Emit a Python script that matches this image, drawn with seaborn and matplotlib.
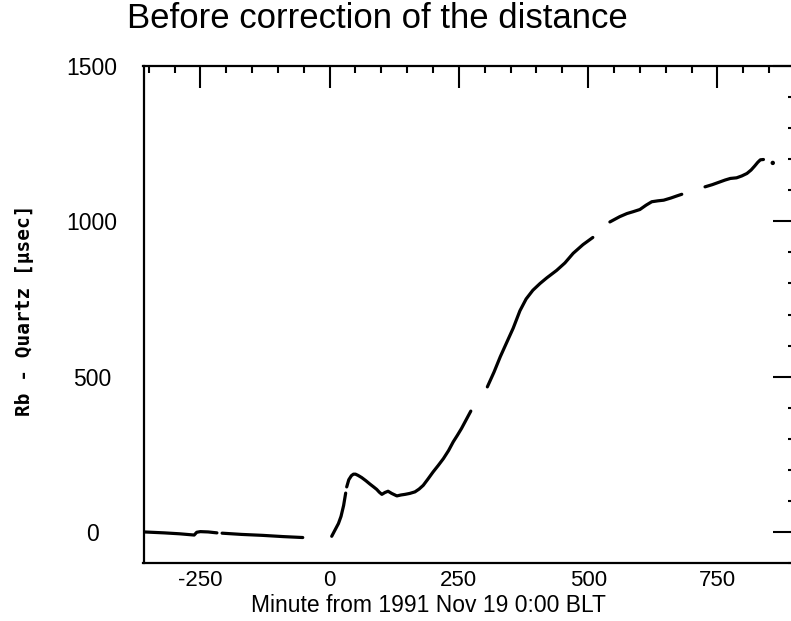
import numpy as np
import pandas as pd
import matplotlib
matplotlib.use("Agg")
import matplotlib.pyplot as plt
import seaborn as sns
from matplotlib.ticker import MultipleLocator

# Rb - Quartz offset (pieces of the trace with gaps)
seg1_x = [-359, -320, -290, -262, -257, -250, -235, -218]
seg1_y = [0, -3, -6, -10, -1, 1, 0, -3]
seg2_x = [-208, -170, -130, -90, -52]
seg2_y = [-4, -8, -11, -15, -18]
seg3_x = [4, 10, 17, 22, 27, 31]
seg3_y = [-14, 5, 27, 50, 85, 125]
seg4_x = [33, 37, 42, 46, 50, 55, 62, 70, 78, 85, 91, 96, 101, 107, 113, 120, 130,
          138, 146, 155, 165, 173, 181, 190, 200, 210, 220, 230, 239, 247, 255, 264, 273]
seg4_y = [145, 168, 181, 186, 186, 182, 175, 165, 154, 145, 137, 128, 121, 127, 131, 124, 116,
          119, 121, 124, 129, 138, 150, 170, 193, 214, 236, 262, 290, 311, 333, 361, 389]
seg5_x = [305, 318, 330, 343, 355, 368, 380, 393, 407, 420, 439, 455, 471, 490, 509]
seg5_y = [467, 515, 564, 612, 656, 712, 750, 778, 800, 818, 842, 866, 897, 925, 948]
seg6_x = [542, 561, 575, 587, 600, 612, 623, 635, 646, 660, 672, 681]
seg6_y = [998, 1015, 1025, 1031, 1038, 1052, 1063, 1066, 1068, 1075, 1082, 1087]
seg7_x = [726, 740, 755, 765, 775, 787, 797, 807, 815, 822, 828, 833, 839]
seg7_y = [1111, 1118, 1127, 1133, 1138, 1140, 1146, 1154, 1165, 1178, 1190, 1198, 1199]
dot_x = [857]
dot_y = [1188]

segments = [(seg1_x, seg1_y), (seg2_x, seg2_y), (seg3_x, seg3_y), (seg4_x, seg4_y),
            (seg5_x, seg5_y), (seg6_x, seg6_y), (seg7_x, seg7_y)]
df = pd.concat([pd.DataFrame({"minute": sx, "diff": sy, "seg": i})
                for i, (sx, sy) in enumerate(segments)], ignore_index=True)
df_dot = pd.DataFrame({"minute": dot_x, "diff": dot_y})

sns.set_style("white")
plt.rcParams["font.family"] = ["Liberation Sans", "DejaVu Sans"]
plt.rcParams["axes.unicode_minus"] = False
plt.rcParams["text.color"] = "black"
plt.rcParams["xtick.color"] = "black"
plt.rcParams["ytick.color"] = "black"

W, H = 791, 621
fig = plt.figure(figsize=(W / 100, H / 100), dpi=100)
# axes box in pixels: left 143.5, right 795 (cut by the image edge), top 66, bottom 563
ax = fig.add_axes([143.5 / W, (H - 563) / H, (795 - 143.5) / W, (563 - 66) / H])

sns.lineplot(data=df, x="minute", y="diff", units="seg", estimator=None, sort=False,
             color="black", linewidth=2.3, ax=ax)
sns.scatterplot(data=df_dot, x="minute", y="diff", color="black", s=10, edgecolor="none", ax=ax)

ax.set_xlim(-360, 900)
ax.set_ylim(-100, 1500)
ax.xaxis.set_major_locator(MultipleLocator(250))
ax.xaxis.set_minor_locator(MultipleLocator(50))
ax.yaxis.set_major_locator(MultipleLocator(500))
ax.yaxis.set_minor_locator(MultipleLocator(100))

for s in ax.spines.values():
    s.set_linewidth(1.6)
    s.set_color("black")

ax.tick_params(which="both", direction="in", top=True, right=True, color="black", width=1.5)
ax.tick_params(which="major", length=15.5)
ax.tick_params(which="minor", length=5)
ax.tick_params(axis="x", which="major", labelsize=16, pad=5, labelcolor="black")
ax.tick_params(axis="y", which="major", labelsize=16.5, pad=37, labelcolor="black")
for lbl in ax.get_yticklabels():
    lbl.set_horizontalalignment("center")

ax.set_xlabel("")
ax.set_ylabel("")

fig.text(127 / W, 1 - 28.5 / H, "Before correction of the distance", fontsize=25,
         ha="left", va="baseline", color="black")
fig.text(428 / W, 9 / H, "Minute from 1991 Nov 19 0:00 BLT", fontsize=16.5,
         ha="center", va="baseline", color="black")
fig.text(25 / W, 1 - 310 / H, "Rb - Quartz [\u03bcsec]", fontsize=14, rotation=90,
         ha="center", va="center", fontweight="bold", color="black",
         family=["DejaVu Sans Mono", "DejaVu Sans"])

fig.savefig("out.png", dpi=100)
